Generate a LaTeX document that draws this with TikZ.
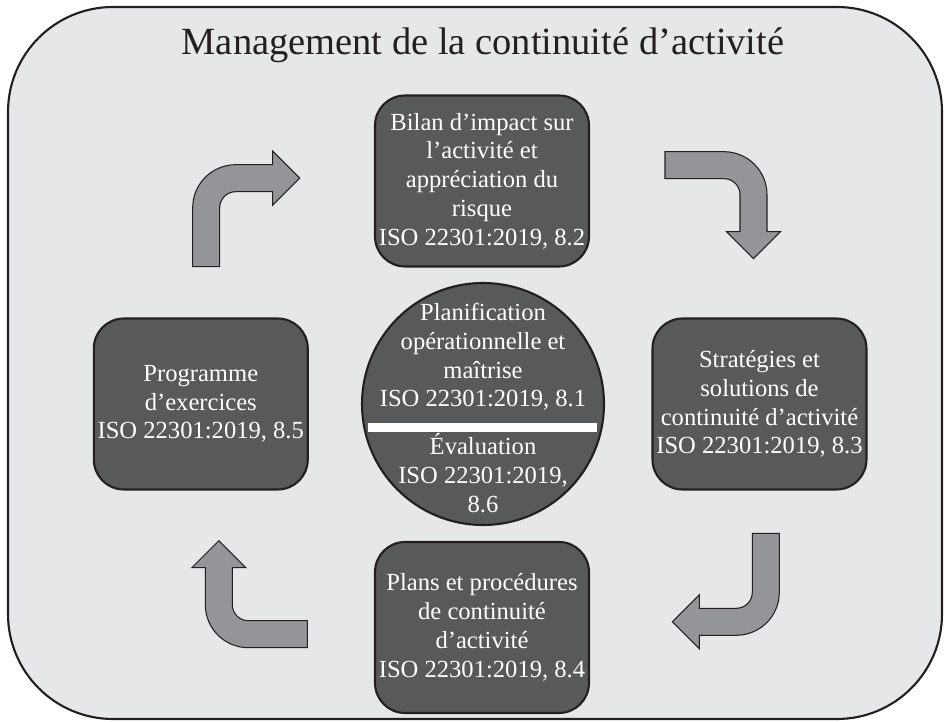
\documentclass[tikz,border=0pt]{standalone}
\usepackage{fontspec}
\setmainfont{Liberation Serif}
\definecolor{framegray}{HTML}{E6E7E8}
\definecolor{boxgray}{HTML}{58595B}
\definecolor{arrowgray}{HTML}{939598}
\definecolor{inkblack}{HTML}{231F20}
\newcommand{\boxfont}{\fontsize{14pt}{16.4pt}\selectfont}
\newcommand{\bentarrow}[2]{\draw[turn, shift={#1}, rotate=#2] (0,0) -- (0,59) arc (180:90:43) -- (80,102) -- (80,115.5) -- (107,88.5) -- (80,61.5) -- (80,75) -- (43,75) arc (90:180:16) -- (27,0) -- cycle;}
\begin{document}
\begin{tikzpicture}[x=0.02cm,y=0.02cm,
	stage/.style={draw=inkblack, line width=1.2pt, fill=boxgray, rounded corners=0.6cm, minimum width=4.28cm, minimum height=3.42cm, text=white, align=center, inner sep=1pt, font=\boxfont},
	hub/.style={circle, draw=inkblack, line width=1.2pt, fill=boxgray, minimum size=4.84cm},
	hubtext/.style={text=white, align=center, inner sep=0pt, font=\boxfont},
	turn/.style={draw=inkblack, line width=0.6pt, fill=arrowgray}]
			\useasboundingbox (0,0) rectangle (947,-722);
			\draw [draw=inkblack, line width=1.2pt, fill=framegray, rounded corners=2.1cm] (8,-7) rectangle (942,-719);
			\node [text=inkblack, font=\fontsize{21.9pt}{24pt}\selectfont] (title) at (483,-45) {Management de la continuité d’activité};
			\bentarrow{(192.7,-266.7)}{0}
			\bentarrow{(665,-151.7)}{-90}
			\bentarrow{(779.3,-533.3)}{180}
			\bentarrow{(307.3,-647.7)}{90}
			\node [stage] (bia) at (482,-181) {Bilan d’impact sur\\l’activité et\\appréciation du\\risque\\ISO 22301:2019, 8.2};
			\node [stage] (strat) at (759.5,-404) {Stratégies et\\solutions de\\continuité d’activité\\ISO 22301:2019, 8.3};
			\node [stage] (plans) at (482,-627.5) {Plans et procédures\\de continuité\\d’activité\\ISO 22301:2019, 8.4};
			\node [stage] (prog) at (200.8,-404) {Programme\\d’exercices\\ISO 22301:2019, 8.5};
			\node [hub] (hub) at (483,-404) {};
			\fill [white] (368,-422.7) rectangle (597,-431.7);
			\node [hubtext] (plan) at (483,-357) {Planification\\opérationnelle et\\maîtrise\\ISO 22301:2019, 8.1};
			\node [hubtext] (eval) at (483,-473) {Évaluation\\ISO 22301:2019,\\8.6};
\end{tikzpicture}
\end{document}
